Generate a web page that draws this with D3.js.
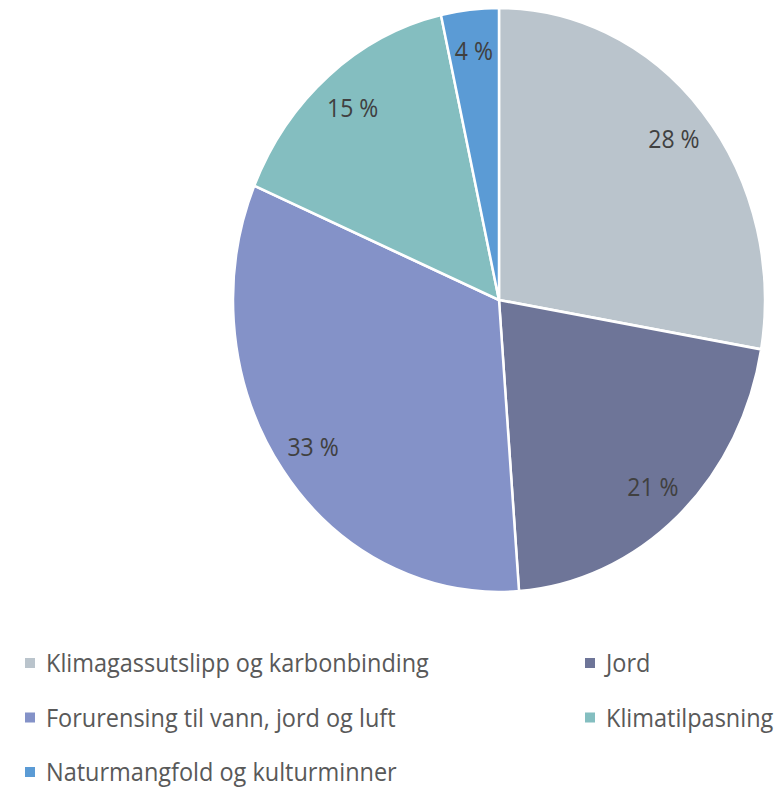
<!DOCTYPE html>
<html>
<head>
<meta charset="utf-8">
<script src="https://cdn.jsdelivr.net/npm/d3@7"></script>
<style>
  body { margin: 0; background: #fff; }
  text { font-family: "Open Sans", "Liberation Sans", sans-serif; }
</style>
</head>
<body>
<svg id="pie" width="782" height="787"></svg>
<script>
// ----------------------
// data
// ----------------------
const categories = [
    "Klimagassutslipp og karbonbinding",
    "Jord",
    "Forurensing til vann, jord og luft",
    "Klimatilpasning",
    "Naturmangfold og kulturminner"
];
const shares = [27.7, 21.1, 32.6, 15.1, 3.5];
const colors = ["#bac4cc", "#6e7598", "#8492c8", "#84bec0", "#5b9bd5"];

// legend order (rows left->right, top->bottom)
const legendOrder = [0, 1, 2, 3, 4];

// ----------------------
// layout
// ----------------------
const svg = d3.select("#pie");
const cx = 499, cy = 300;
const rx = 266;               // horizontal radius
const yStretch = 292 / 266;   // reference picture is stretched vertically

const pie = d3.pie().sort(null).value(d => d)(shares);
const arc = d3.arc().innerRadius(0).outerRadius(rx);
const labelArc = d3.arc().innerRadius(rx * 0.86).outerRadius(rx * 0.86);

const pieG = svg.append("g")
    .attr("transform", `translate(${cx},${cy}) scale(1,${yStretch})`);

pieG.selectAll("path")
    .data(pie)
    .enter()
    .append("path")
    .attr("d", arc)
    .attr("fill", (d, i) => colors[i])
    .attr("stroke", "#fff")
    .attr("stroke-width", 2.5)
    .attr("stroke-linejoin", "round");

// data labels
svg.append("g")
    .selectAll("text")
    .data(pie)
    .enter()
    .append("text")
    .attr("transform", d => {
        const [lx, ly] = labelArc.centroid(d);
        return `translate(${cx + lx},${cy + ly * yStretch}) scale(1,${yStretch})`;
    })
    .attr("text-anchor", "middle")
    .attr("dominant-baseline", "central")
    .attr("font-size", 23)
    .attr("fill", "#404040")
    .text(d => Math.round(d.value) + " %");

// ----------------------
// legend
// ----------------------
const legendX = [25, 585];
const legendY0 = 663, legendStep = 54.5;

const items = svg.append("g")
    .selectAll("g")
    .data(legendOrder)
    .enter()
    .append("g")
    .attr("transform", (d, i) =>
        `translate(${legendX[i % 2]},${legendY0 + Math.floor(i / 2) * legendStep})`);

items.append("rect")
    .attr("x", 0)
    .attr("y", -5)
    .attr("width", 10)
    .attr("height", 10)
    .attr("fill", d => colors[d]);

items.append("text")
    .attr("transform", `translate(21,9) scale(1,${yStretch})`)
    .attr("font-size", 23.5)
    .attr("fill", "#595959")
    .text(d => categories[d]);
</script>
</body>
</html>
